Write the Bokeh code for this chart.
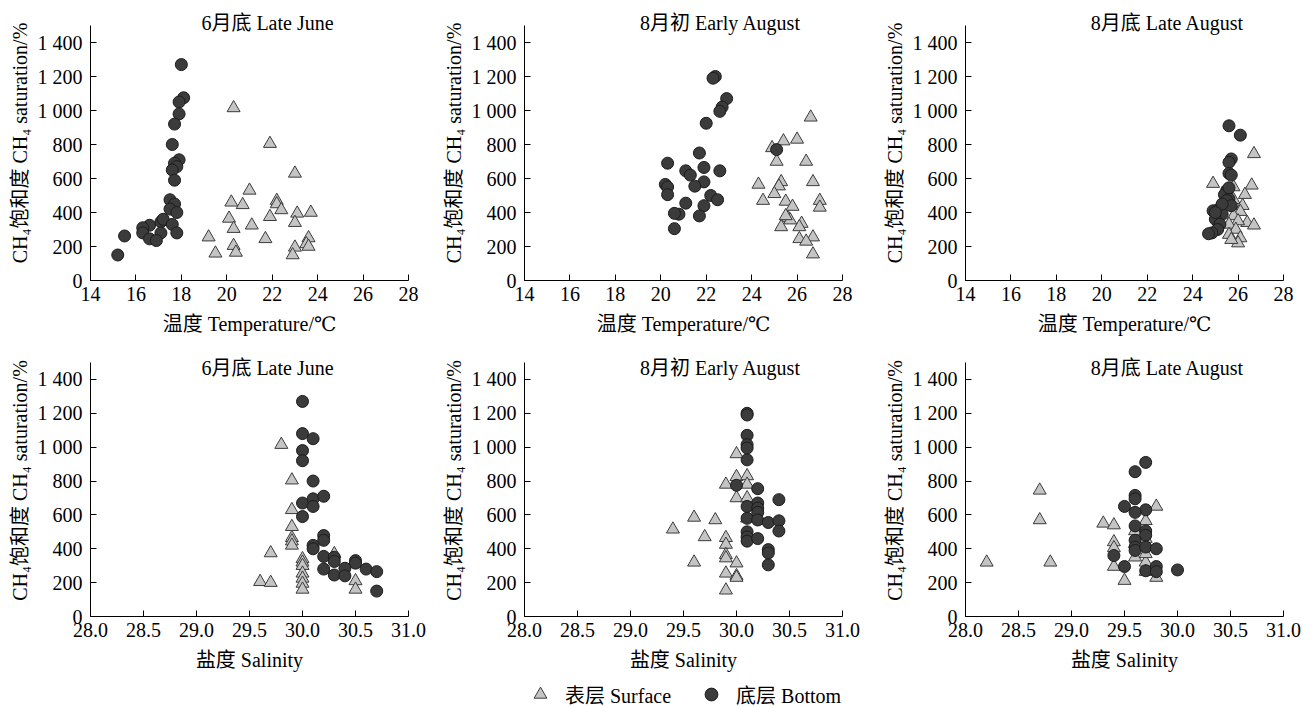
from bokeh.plotting import figure
from bokeh.layouts import gridplot, column
from bokeh.models import FixedTicker, Label, Legend, LegendItem, Range1d, NumeralTickFormatter
from bokeh.embed import file_html
from bokeh.resources import INLINE

# ---------------- data ----------------
# Temperature panels (x: temperature, y: CH4 saturation %)
t1_sur_x = [20.3, 21.9, 23.0, 21.0, 20.2, 20.7, 22.2, 22.2, 22.4, 23.1, 23.7, 20.1, 21.9, 23.0, 21.1, 20.3, 19.2, 21.7, 23.6, 23.5, 23.6, 20.3, 20.4, 23.0, 19.5, 22.9]
t1_sur_y = [1015, 805, 630, 530, 460, 445, 470, 450, 415, 395, 400, 365, 375, 340, 325, 305, 255, 245, 250, 215, 200, 205, 165, 195, 160, 150]
t1_bot_x = [18.0, 18.1, 17.9, 17.9, 17.7, 17.6, 17.9, 17.7, 17.8, 17.6, 17.7, 17.5, 17.7, 17.5, 17.8, 17.1, 17.2, 17.6, 16.6, 16.3, 16.3, 17.1, 17.8, 16.6, 16.9, 15.5, 15.2]
t1_bot_y = [1270, 1075, 1050, 980, 920, 800, 710, 690, 670, 650, 590, 475, 450, 420, 400, 345, 360, 330, 325, 310, 280, 280, 280, 245, 235, 262, 150]

t2_sur_x = [26.6, 25.4, 26.0, 24.9, 25.1, 26.4, 24.3, 25.3, 25.2, 26.7, 25.0, 24.5, 25.5, 27.0, 27.0, 25.8, 25.6, 25.7, 26.2, 26.1, 25.3, 26.1, 26.7, 26.4, 26.7, 25.5]
t2_sur_y = [960, 820, 830, 780, 700, 700, 565, 580, 555, 580, 510, 470, 465, 470, 430, 435, 370, 355, 335, 315, 315, 245, 255, 230, 155, 380]
t2_bot_x = [22.4, 22.3, 22.9, 22.7, 22.6, 22.0, 21.7, 20.3, 21.9, 21.1, 22.6, 21.3, 21.9, 21.5, 20.2, 20.3, 20.3, 22.2, 22.5, 21.1, 21.9, 20.8, 20.6, 21.7, 20.6, 25.1]
t2_bot_y = [1200, 1190, 1070, 1020, 995, 925, 750, 690, 665, 645, 645, 620, 580, 555, 565, 550, 505, 500, 475, 455, 440, 390, 395, 380, 305, 770]

t3_sur_x = [26.7, 24.9, 26.6, 26.3, 25.8, 26.2, 26.1, 25.8, 26.4, 26.7, 26.0, 25.6, 25.9, 25.6, 26.1, 26.0, 25.7, 25.8]
t3_sur_y = [745, 570, 560, 505, 475, 440, 405, 380, 340, 325, 350, 330, 300, 270, 250, 220, 240, 550]
t3_bot_x = [25.6, 26.1, 25.7, 25.6, 25.6, 25.7, 25.5, 25.4, 25.6, 25.5, 25.7, 25.1, 24.9, 25.3, 25.0, 25.2, 25.1, 24.85, 24.7, 25.3, 25.0, 25.6]
t3_bot_y = [910, 855, 715, 695, 630, 620, 530, 505, 480, 470, 440, 415, 410, 390, 360, 330, 300, 280, 275, 450, 400, 545]

# Salinity panels (x: salinity, y: CH4 saturation %)
s1_sur_x = [29.8, 29.9, 29.9, 29.9, 29.9, 29.9, 29.9, 29.7, 30.0, 30.0, 30.0, 30.0, 30.0, 30.0, 30.0, 29.6, 29.7, 30.3, 30.5, 30.5]
s1_sur_y = [1015, 805, 630, 530, 465, 445, 420, 375, 340, 320, 300, 255, 225, 195, 160, 205, 200, 370, 210, 160]
s1_bot_x = [30.0, 30.0, 30.1, 30.0, 30.0, 30.1, 30.0, 30.1, 30.2, 30.1, 30.0, 30.2, 30.2, 30.1, 30.1, 30.2, 30.3, 30.3, 30.5, 30.5, 30.2, 30.4, 30.6, 30.7, 30.3, 30.4, 30.7]
s1_bot_y = [1270, 1080, 1050, 980, 920, 800, 670, 695, 710, 650, 590, 478, 450, 420, 400, 355, 350, 325, 330, 315, 280, 285, 280, 265, 245, 240, 150]

s2_sur_x = [30.0, 30.0, 30.1, 29.9, 30.1, 30.0, 30.1, 29.6, 29.8, 29.4, 29.7, 29.9, 29.9, 29.9, 29.9, 30.0, 29.6, 29.9, 30.0, 30.0, 29.9, 30.1]
s2_sur_y = [960, 825, 830, 780, 780, 700, 700, 585, 570, 515, 470, 465, 425, 365, 345, 315, 320, 255, 240, 230, 155, 580]
s2_bot_x = [30.1, 30.1, 30.1, 30.1, 30.1, 30.1, 30.0, 30.2, 30.2, 30.4, 30.1, 30.2, 30.2, 30.1, 30.2, 30.3, 30.4, 30.4, 30.1, 30.1, 30.1, 30.2, 30.3, 30.3, 30.3]
s2_bot_y = [1200, 1190, 1070, 1015, 995, 925, 775, 755, 670, 690, 650, 640, 615, 580, 570, 555, 565, 505, 500, 470, 445, 460, 395, 375, 305]

s3_sur_x = [28.7, 28.7, 28.2, 28.8, 29.3, 29.4, 29.4, 29.4, 29.4, 29.5, 29.8, 29.7, 29.6, 29.7, 29.6, 29.7, 29.7, 29.7, 29.8, 29.6]
s3_sur_y = [745, 570, 320, 320, 550, 540, 440, 405, 295, 212, 650, 565, 505, 460, 350, 320, 370, 265, 230, 430]
s3_bot_x = [29.7, 29.6, 29.6, 29.6, 29.5, 29.7, 29.6, 29.6, 29.7, 29.7, 29.6, 29.6, 29.6, 29.7, 29.8, 29.4, 29.5, 29.7, 29.8, 29.8, 30.0]
s3_bot_y = [910, 855, 715, 695, 650, 630, 615, 535, 505, 480, 450, 410, 390, 410, 400, 360, 295, 270, 295, 265, 275]

titles = ["6月底 Late June", "8月初 Early August", "8月底 Late August"]
y_label = "CH₄饱和度 CH₄ saturation/%"
x_label_temp = "温度 Temperature/℃"
x_label_sal = "盐度 Salinity"
legend_labels = ["表层 Surface", "底层 Bottom"]

y_ticks = [0, 200, 400, 600, 800, 1000, 1200, 1400]
y_tick_labels = ["0", "200", "400", "600", "800", "1 000", "1 200", "1 400"]
y_axis_max = 1500
temp_ticks = [14, 16, 18, 20, 22, 24, 26, 28]
sal_ticks = [28.0, 28.5, 29.0, 29.5, 30.0, 30.5, 31.0]

# ---------------- style / layout ----------------
FONT = "Liberation Serif, DejaVu Serif, Noto Sans CJK SC"
FS = "20px"
SUR_FILL, SUR_LINE = "#c4c4c4", "#3c3c3c"
BOT_FILL, BOT_LINE = "#3b3b3b", "#1c1c1c"

col_left = [90, 90, 92]
col_right = [26, 31, 31]
col_title_dx = [177, 196, 202]
# per row: top border, axis height (px for 0..1500), extra frame above axis, bottom border
row_top = [5, 4]
row_axis_h = [255, 254]
row_extra = [20, 18]
row_bottom = [60, 60]
row_title_y = [258, 249]


def make(r, c, sx, sy, bx, by, xlabel, xr, xticks, xfmt):
    fh = row_axis_h[r] + row_extra[r]
    ytop = y_axis_max * fh / row_axis_h[r]
    p = figure(frame_width=318, frame_height=fh,
               min_border_left=col_left[c], min_border_right=col_right[c],
               min_border_top=row_top[r], min_border_bottom=row_bottom[r],
               x_range=Range1d(*xr), y_range=Range1d(0, ytop),
               output_backend="svg", toolbar_location=None, tools="")
    p.outline_line_color = None
    p.grid.visible = False
    p.background_fill_color = "white"
    p.border_fill_color = "white"

    for ax in (p.xaxis[0], p.yaxis[0]):
        ax.axis_line_color = "black"
        ax.axis_line_width = 1
        ax.major_tick_in = 6
        ax.major_tick_out = 0
        ax.major_tick_line_color = "black"
        ax.minor_tick_line_color = None
        ax.major_label_text_font = FONT
        ax.major_label_text_font_size = FS
        ax.major_label_text_color = "black"
        ax.axis_label_text_font = FONT
        ax.axis_label_text_font_size = FS
        ax.axis_label_text_font_style = "normal"
        ax.axis_label_text_color = "black"

    p.yaxis.bounds = (0, y_axis_max)
    p.yaxis.ticker = FixedTicker(ticks=y_ticks)
    p.yaxis.major_label_overrides = {t: l for t, l in zip(y_ticks, y_tick_labels)}
    p.yaxis.major_label_standoff = 8
    p.yaxis.axis_label = y_label
    p.yaxis.axis_label_standoff = 4

    p.xaxis.ticker = FixedTicker(ticks=xticks)
    if xfmt:
        p.xaxis.formatter = NumeralTickFormatter(format=xfmt)
    p.xaxis.major_label_standoff = 6
    p.xaxis.axis_label = xlabel
    p.xaxis.axis_label_standoff = 9

    p.scatter(sx, sy, marker="triangle", size=13, fill_color=SUR_FILL,
              line_color=SUR_LINE, line_width=1)
    p.scatter(bx, by, marker="circle", size=12, fill_color=BOT_FILL,
              line_color=BOT_LINE, line_width=1)

    p.add_layout(Label(x=col_title_dx[c], y=row_title_y[r],
                       x_units="screen", y_units="screen", text=titles[c],
                       text_align="center", text_baseline="middle",
                       text_font=FONT, text_font_size=FS, text_color="black"))
    return p


temp_sets = [(t1_sur_x, t1_sur_y, t1_bot_x, t1_bot_y),
             (t2_sur_x, t2_sur_y, t2_bot_x, t2_bot_y),
             (t3_sur_x, t3_sur_y, t3_bot_x, t3_bot_y)]
sal_sets = [(s1_sur_x, s1_sur_y, s1_bot_x, s1_bot_y),
            (s2_sur_x, s2_sur_y, s2_bot_x, s2_bot_y),
            (s3_sur_x, s3_sur_y, s3_bot_x, s3_bot_y)]

top = [make(0, c, *d, x_label_temp, (14, 28), temp_ticks, None) for c, d in enumerate(temp_sets)]
bottom = [make(1, c, *d, x_label_sal, (28, 31), sal_ticks, "0.0") for c, d in enumerate(sal_sets)]

grid = gridplot([top, bottom], toolbar_location=None)

# legend strip (dummy renderers outside the visible range carry the legend glyphs)
lf = figure(width=1314, height=30, x_range=Range1d(0, 1), y_range=Range1d(0, 1),
            x_axis_type=None, y_axis_type=None,
            min_border_left=0, min_border_right=0, min_border_top=0, min_border_bottom=0,
            output_backend="svg", toolbar_location=None, tools="")
lf.outline_line_color = None
lf.grid.visible = False
ls = lf.scatter([0.5], [-5], marker="triangle", size=13, fill_color=SUR_FILL, line_color=SUR_LINE, line_width=1)
lb = lf.scatter([0.5], [-5], marker="circle", size=12, fill_color=BOT_FILL, line_color=BOT_LINE, line_width=1)
legend = Legend(items=[LegendItem(label=legend_labels[0], renderers=[ls]),
                       LegendItem(label=legend_labels[1], renderers=[lb])],
                location=(524, -4), orientation="horizontal",
                background_fill_alpha=0, border_line_color=None,
                padding=0, margin=0, spacing=24, label_standoff=9,
                glyph_width=32, glyph_height=32, label_height=32,
                label_text_font=FONT, label_text_font_size=FS,
                label_text_color="black")
lf.add_layout(legend)

layout = column(grid, lf)

open("out.html", "w").write(file_html(layout, INLINE))
